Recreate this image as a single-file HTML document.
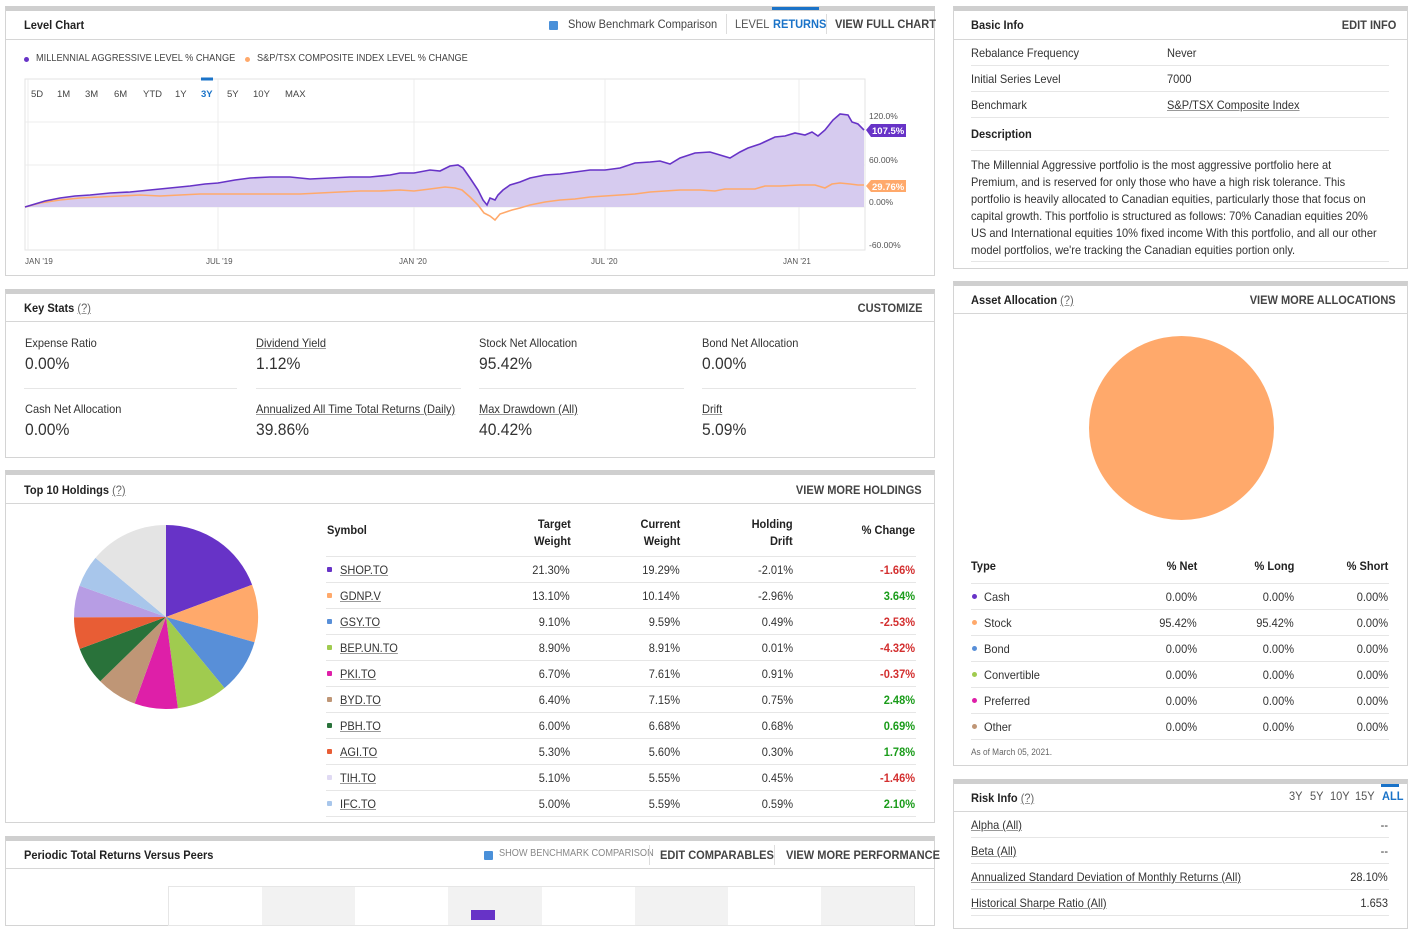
<!DOCTYPE html>
<html><head><meta charset="utf-8">
<style>
*{margin:0;padding:0;box-sizing:border-box}
body{width:1416px;height:917px;overflow:hidden;background:#fff;position:relative;font-family:"Liberation Sans Narrow","Liberation Sans",sans-serif;color:#333;font-size:12px}
.p{position:absolute;border:1px solid #d4d4d4;border-top:5px solid #cfcfcf;background:#fff}
.hl{position:absolute;height:1px;background:#d6d6d6}
.sl{position:absolute;height:1px;background:#e6e6e6}
.t{position:absolute;white-space:nowrap;line-height:1;transform:scaleX(.92);transform-origin:left center}
.r{text-align:right;transform-origin:right center}
.h{font-weight:bold;color:#222;font-size:12px}
.lk{font-weight:bold;color:#444;font-size:12px}
u{text-decoration:underline;text-decoration-color:#999}
.d{position:absolute;width:5px;height:5px;border-radius:1px}
.v{font-size:17px;color:#333}
.g{color:#1a9c1a;font-weight:bold}
.rd{color:#d32f2f;font-weight:bold}
.desc{position:absolute;left:971px;top:157px;width:460px;line-height:17px;font-size:12px;color:#333;transform:scaleX(.92);transform-origin:left top}
svg text{font-family:"Liberation Sans Narrow","Liberation Sans",sans-serif}
</style></head><body>

<!-- Level chart panel -->
<div class="p" style="left:5px;top:6px;width:930px;height:270px"></div>
<div class="hl" style="left:6px;top:39px;width:928px"></div>
<div class="t h" style="left:24px;top:19px">Level Chart</div>
<div style="position:absolute;left:549px;top:21px;width:9px;height:9px;background:#4a90d9;border-radius:1px"></div>
<div class="t" style="left:568px;top:18px;color:#444">Show Benchmark Comparison</div>
<div style="position:absolute;left:726px;top:14px;width:1px;height:20px;background:#ddd"></div>
<div class="t" style="left:735px;top:18px;color:#555">LEVEL</div>
<div style="position:absolute;left:772px;top:7px;width:47px;height:3px;background:#1a73c8"></div>
<div class="t" style="left:773px;top:18px;color:#1a73c8;font-weight:bold">RETURNS</div>
<div style="position:absolute;left:826px;top:14px;width:1px;height:20px;background:#ddd"></div>
<div class="t lk" style="left:835px;top:18px">VIEW FULL CHART</div>

<div class="d" style="left:24px;top:57px;background:#6733c7;border-radius:50%"></div>
<div class="t" style="left:36px;top:54px;font-size:10px;color:#444">MILLENNIAL AGGRESSIVE LEVEL % CHANGE</div>
<div class="d" style="left:245px;top:57px;background:#ffa96b;border-radius:50%"></div>
<div class="t" style="left:257px;top:54px;font-size:10px;color:#444">S&amp;P/TSX COMPOSITE INDEX LEVEL % CHANGE</div>

<svg style="position:absolute;left:0;top:0" width="935" height="275">
<rect x="25" y="79" width="840" height="171" fill="none" stroke="#e3e3e3"/>
<g stroke="#ececec" stroke-width="1">
<line x1="218" y1="79" x2="218" y2="250"/><line x1="414" y1="79" x2="414" y2="250"/>
<line x1="605" y1="79" x2="605" y2="250"/><line x1="799" y1="79" x2="799" y2="250"/>
<line x1="28" y1="79" x2="28" y2="250"/>
<line x1="25" y1="122" x2="865" y2="122"/><line x1="25" y1="165" x2="865" y2="165"/>
<line x1="25" y1="207" x2="865" y2="207"/>
</g>
<path fill="#d6cbef" d="M25,207 L35,204 45,201 60,198 75,196 90,195 110,193 130,192 150,190 170,188 190,186 205,184 218,183 235,180 250,178 270,177 290,177 310,179 330,178 350,177 370,177 390,175 400,173 414,173 430,170 440,171 450,166 458,165 463,168 470,178 478,190 483,200 487,205 490,198 495,200 498,195 503,190 510,185 520,182 530,178 545,175 560,174 575,172 590,170 605,170 620,168 635,163 650,162 660,161 670,164 680,158 695,153 710,152 720,155 730,158 740,152 748,148 760,144 775,137 785,136 795,133 805,135 812,132 818,136 825,130 833,120 840,114 848,115 852,122 858,124 864,130 864,207 Z"/>
<polyline fill="none" stroke="#ffa96b" stroke-width="1.6" points="25,207 40,203 60,200 80,198 100,197 120,196 140,195 160,196 180,195 200,194 218,194 250,194 280,194 300,194 320,193 340,192 360,191 380,191 400,190 414,191 430,189 445,187 455,188 462,190 470,197 478,205 484,213 490,216 495,220 500,214 506,212 512,210 520,208 530,205 545,202 560,200 575,199 590,197 605,196 620,195 635,194 650,192 665,191 680,190 700,190 715,191 725,189 740,189 755,189 765,186 780,186 800,185 815,185 825,188 832,184 840,183 850,184 858,185 864,185"/>
<polyline fill="none" stroke="#6733c7" stroke-width="1.6" points="25,207 35,204 45,201 60,198 75,196 90,195 110,193 130,192 150,190 170,188 190,186 205,184 218,183 235,180 250,178 270,177 290,177 310,179 330,178 350,177 370,177 390,175 400,173 414,173 430,170 440,171 450,166 458,165 463,168 470,178 478,190 483,200 487,205 490,198 495,200 498,195 503,190 510,185 520,182 530,178 545,175 560,174 575,172 590,170 605,170 620,168 635,163 650,162 660,161 670,164 680,158 695,153 710,152 720,155 730,158 740,152 748,148 760,144 775,137 785,136 795,133 805,135 812,132 818,136 825,130 833,120 840,114 848,115 852,122 858,124 864,130"/>
<polygon points="866,130 871,124 906,124 906,137 871,137" fill="#6733c7"/>
<polygon points="866,186 871,180 906,180 906,192 871,192" fill="#ffa96b"/>
<line x1="201" y1="79" x2="213" y2="79" stroke="#1a73c8" stroke-width="3"/>
<g font-size="8.5" fill="#555">
<text x="869" y="119">120.0%</text><text x="869" y="163">60.00%</text><text x="869" y="205">0.00%</text><text x="869" y="248">-60.00%</text>
<text x="25" y="264" font-size="8">JAN '19</text><text x="206" y="264" font-size="8">JUL '19</text><text x="399" y="264" font-size="8">JAN '20</text><text x="591" y="264" font-size="8">JUL '20</text><text x="783" y="264" font-size="8">JAN '21</text>
</g>
<text x="872" y="134" font-size="9.5" font-weight="bold" fill="#fff">107.5%</text>
<text x="872" y="190" font-size="9.5" font-weight="bold" fill="#fff">29.76%</text>
<g font-size="9.5" fill="#444">
<text x="31" y="97">5D</text><text x="57" y="97">1M</text><text x="85" y="97">3M</text><text x="114" y="97">6M</text><text x="143" y="97">YTD</text><text x="175" y="97">1Y</text><text x="201" y="97" fill="#1a73c8" font-weight="bold">3Y</text><text x="227" y="97">5Y</text><text x="253" y="97">10Y</text><text x="285" y="97">MAX</text>
</g>
</svg>

<!-- Key stats -->
<div class="p" style="left:5px;top:289px;width:930px;height:169px"></div>
<div class="hl" style="left:6px;top:321px;width:928px"></div>
<div class="t h" style="left:24px;top:302px">Key Stats <u style="font-weight:normal;color:#666">(?)</u></div>
<div class="t lk r" style="right:494px;top:302px">CUSTOMIZE</div>
<div class="t" style="left:25px;top:337px">Expense Ratio</div><div class="t v" style="left:25px;top:355px">0.00%</div>
<div class="t" style="left:256px;top:337px"><u>Dividend Yield</u></div><div class="t v" style="left:256px;top:355px">1.12%</div>
<div class="t" style="left:479px;top:337px">Stock Net Allocation</div><div class="t v" style="left:479px;top:355px">95.42%</div>
<div class="t" style="left:702px;top:337px">Bond Net Allocation</div><div class="t v" style="left:702px;top:355px">0.00%</div>
<div class="sl" style="left:24px;top:388px;width:213px"></div><div class="sl" style="left:256px;top:388px;width:205px"></div><div class="sl" style="left:479px;top:388px;width:205px"></div><div class="sl" style="left:702px;top:388px;width:214px"></div>
<div class="t" style="left:25px;top:403px">Cash Net Allocation</div><div class="t v" style="left:25px;top:421px">0.00%</div>
<div class="t" style="left:256px;top:403px"><u>Annualized All Time Total Returns (Daily)</u></div><div class="t v" style="left:256px;top:421px">39.86%</div>
<div class="t" style="left:479px;top:403px"><u>Max Drawdown (All)</u></div><div class="t v" style="left:479px;top:421px">40.42%</div>
<div class="t" style="left:702px;top:403px"><u>Drift</u></div><div class="t v" style="left:702px;top:421px">5.09%</div>

<!-- Top holdings -->
<div class="p" style="left:5px;top:470px;width:930px;height:353px"></div>
<div class="hl" style="left:6px;top:503px;width:928px"></div>
<div class="t h" style="left:24px;top:484px">Top 10 Holdings <u style="font-weight:normal;color:#666">(?)</u></div>
<div class="t lk r" style="right:494px;top:484px">VIEW MORE HOLDINGS</div>
<svg style="position:absolute;left:0;top:0" width="300" height="760">
<path d="M166,617 L166,525 A92,92 0 0 1 252.1,584.7Z" fill="#6733c7"/>
<path d="M166,617 L252.1,584.7 A92,92 0 0 1 254.5,642.3Z" fill="#ffa96b"/>
<path d="M166,617 L254.5,642.3 A92,92 0 0 1 224.5,688Z" fill="#588fd8"/>
<path d="M166,617 L224.5,688 A92,92 0 0 1 177.9,708.2Z" fill="#a0cb4f"/>
<path d="M166,617 L177.9,708.2 A92,92 0 0 1 134.6,703.5Z" fill="#de1fa8"/>
<path d="M166,617 L134.6,703.5 A92,92 0 0 1 100.2,681.3Z" fill="#bf9676"/>
<path d="M166,617 L100.2,681.3 A92,92 0 0 1 79.7,648.9Z" fill="#29723a"/>
<path d="M166,617 L79.7,648.9 A92,92 0 0 1 74,617.2Z" fill="#e85d35"/>
<path d="M166,617 L74,617.2 A92,92 0 0 1 79.5,585.7Z" fill="#b79de4"/>
<path d="M166,617 L79.5,585.7 A92,92 0 0 1 95.5,557.9Z" fill="#a8c6eb"/>
<path d="M166,617 L95.5,557.9 A92,92 0 0 1 166,525Z" fill="#e4e4e4"/>
</svg>
<div class="t h" style="left:327px;top:524px">Symbol</div>
<div class="t h r" style="right:845px;top:516px;line-height:17px">Target<br>Weight</div>
<div class="t h r" style="right:736px;top:516px;line-height:17px">Current<br>Weight</div>
<div class="t h r" style="right:623px;top:516px;line-height:17px">Holding<br>Drift</div>
<div class="t h r" style="right:501px;top:524px">% Change</div>
<div class="sl" style="left:326px;top:556px;width:590px"></div>

<!-- Periodic -->
<div class="p" style="left:5px;top:836px;width:930px;height:90px"></div>
<div class="hl" style="left:6px;top:868px;width:928px"></div>
<div class="t h" style="left:24px;top:849px">Periodic Total Returns Versus Peers</div>
<div style="position:absolute;left:484px;top:851px;width:9px;height:9px;background:#4a90d9;border-radius:1px"></div>
<div class="t" style="left:499px;top:849px;font-size:10px;color:#888">SHOW BENCHMARK COMPARISON</div>
<div style="position:absolute;left:649px;top:845px;width:1px;height:20px;background:#ddd"></div>
<div class="t lk" style="left:660px;top:849px">EDIT COMPARABLES</div>
<div style="position:absolute;left:774px;top:845px;width:1px;height:20px;background:#ddd"></div>
<div class="t lk" style="left:786px;top:849px">VIEW MORE PERFORMANCE</div>
<div style="position:absolute;left:168px;top:886px;width:747px;height:40px;border:1px solid #e6e6e6;background:linear-gradient(90deg,#fff 0 93px,#f2f2f2 93px 186px,#fff 186px 279px,#f2f2f2 279px 373px,#fff 373px 466px,#f2f2f2 466px 559px,#fff 559px 652px,#f2f2f2 652px)"></div>
<div style="position:absolute;left:471px;top:910px;width:24px;height:10px;background:#6733c7"></div>

<!-- Basic info -->
<div class="p" style="left:953px;top:6px;width:455px;height:263px"></div>
<div class="hl" style="left:954px;top:39px;width:453px"></div>
<div class="t h" style="left:971px;top:19px">Basic Info</div>
<div class="t lk r" style="right:20px;top:19px">EDIT INFO</div>
<div class="t" style="left:971px;top:47px">Rebalance Frequency</div><div class="t" style="left:1167px;top:47px">Never</div>
<div class="sl" style="left:971px;top:65px;width:418px"></div>
<div class="t" style="left:971px;top:73px">Initial Series Level</div><div class="t" style="left:1167px;top:73px">7000</div>
<div class="sl" style="left:971px;top:91px;width:418px"></div>
<div class="t" style="left:971px;top:99px">Benchmark</div><div class="t" style="left:1167px;top:99px"><u>S&amp;P/TSX Composite Index</u></div>
<div class="sl" style="left:971px;top:117px;width:418px"></div>
<div class="t h" style="left:971px;top:128px">Description</div>
<div class="sl" style="left:971px;top:150px;width:418px"></div>
<div class="desc">The Millennial Aggressive portfolio is the most aggressive portfolio here at<br>Premium, and is reserved for only those who have a high risk tolerance. This<br>portfolio is heavily allocated to Canadian equities, particularly those that focus on<br>capital growth. This portfolio is structured as follows: 70% Canadian equities 20%<br>US and International equities 10% fixed income With this portfolio, and all our other<br>model portfolios, we're tracking the Canadian equities portion only.</div>
<div class="sl" style="left:971px;top:261px;width:418px"></div>

<!-- Asset allocation -->
<div class="p" style="left:953px;top:281px;width:455px;height:485px"></div>
<div class="hl" style="left:954px;top:313px;width:453px"></div>
<div class="t h" style="left:971px;top:294px">Asset Allocation <u style="font-weight:normal;color:#666">(?)</u></div>
<div class="t lk r" style="right:20px;top:294px">VIEW MORE ALLOCATIONS</div>
<div style="position:absolute;left:1089px;top:336px;width:185px;height:184px;border-radius:50%;background:#ffa96b"></div>
<div class="t h" style="left:971px;top:560px">Type</div>
<div class="t h r" style="right:219px;top:560px">% Net</div>
<div class="t h r" style="right:122px;top:560px">% Long</div>
<div class="t h r" style="right:28px;top:560px">% Short</div>
<div class="sl" style="left:971px;top:583px;width:418px"></div>
<div class="t" style="left:971px;top:748px;font-size:9px;color:#666">As of March 05, 2021.</div>

<!-- Risk info -->
<div class="p" style="left:953px;top:779px;width:455px;height:150px"></div>
<div class="hl" style="left:954px;top:811px;width:453px"></div>
<div class="t h" style="left:971px;top:792px">Risk Info <u style="font-weight:normal;color:#666">(?)</u></div>
<div class="t" style="left:1289px;top:790px;color:#555">3Y</div>
<div class="t" style="left:1310px;top:790px;color:#555">5Y</div>
<div class="t" style="left:1330px;top:790px;color:#555">10Y</div>
<div class="t" style="left:1355px;top:790px;color:#555">15Y</div>
<div style="position:absolute;left:1381px;top:784px;width:18px;height:3px;background:#1a73c8"></div>
<div class="t" style="left:1382px;top:790px;color:#1a73c8;font-weight:bold">ALL</div>
<div class="t" style="left:971px;top:819px"><u>Alpha (All)</u></div><div class="t r" style="right:28px;top:819px">--</div>
<div class="sl" style="left:971px;top:837px;width:418px"></div>
<div class="t" style="left:971px;top:845px"><u>Beta (All)</u></div><div class="t r" style="right:28px;top:845px">--</div>
<div class="sl" style="left:971px;top:863px;width:418px"></div>
<div class="t" style="left:971px;top:871px"><u>Annualized Standard Deviation of Monthly Returns (All)</u></div><div class="t r" style="right:28px;top:871px">28.10%</div>
<div class="sl" style="left:971px;top:889px;width:418px"></div>
<div class="t" style="left:971px;top:897px"><u>Historical Sharpe Ratio (All)</u></div><div class="t r" style="right:28px;top:897px">1.653</div>
<div class="sl" style="left:971px;top:915px;width:418px"></div>

<!-- holdings rows -->
<div class="d" style="left:327px;top:567px;background:#6733c7"></div><div class="t" style="left:340px;top:564px"><u>SHOP.TO</u></div><div class="t r" style="right:846px;top:564px">21.30%</div><div class="t r" style="right:736px;top:564px">19.29%</div><div class="t r" style="right:623px;top:564px">-2.01%</div><div class="t r rd" style="right:501px;top:564px">-1.66%</div><div class="sl" style="left:326px;top:582px;width:590px"></div>
<div class="d" style="left:327px;top:593px;background:#ffa96b"></div><div class="t" style="left:340px;top:590px"><u>GDNP.V</u></div><div class="t r" style="right:846px;top:590px">13.10%</div><div class="t r" style="right:736px;top:590px">10.14%</div><div class="t r" style="right:623px;top:590px">-2.96%</div><div class="t r g" style="right:501px;top:590px">3.64%</div><div class="sl" style="left:326px;top:608px;width:590px"></div>
<div class="d" style="left:327px;top:619px;background:#588fd8"></div><div class="t" style="left:340px;top:616px"><u>GSY.TO</u></div><div class="t r" style="right:846px;top:616px">9.10%</div><div class="t r" style="right:736px;top:616px">9.59%</div><div class="t r" style="right:623px;top:616px">0.49%</div><div class="t r rd" style="right:501px;top:616px">-2.53%</div><div class="sl" style="left:326px;top:634px;width:590px"></div>
<div class="d" style="left:327px;top:645px;background:#a0cb4f"></div><div class="t" style="left:340px;top:642px"><u>BEP.UN.TO</u></div><div class="t r" style="right:846px;top:642px">8.90%</div><div class="t r" style="right:736px;top:642px">8.91%</div><div class="t r" style="right:623px;top:642px">0.01%</div><div class="t r rd" style="right:501px;top:642px">-4.32%</div><div class="sl" style="left:326px;top:660px;width:590px"></div>
<div class="d" style="left:327px;top:671px;background:#de1fa8"></div><div class="t" style="left:340px;top:668px"><u>PKI.TO</u></div><div class="t r" style="right:846px;top:668px">6.70%</div><div class="t r" style="right:736px;top:668px">7.61%</div><div class="t r" style="right:623px;top:668px">0.91%</div><div class="t r rd" style="right:501px;top:668px">-0.37%</div><div class="sl" style="left:326px;top:686px;width:590px"></div>
<div class="d" style="left:327px;top:697px;background:#bf9676"></div><div class="t" style="left:340px;top:694px"><u>BYD.TO</u></div><div class="t r" style="right:846px;top:694px">6.40%</div><div class="t r" style="right:736px;top:694px">7.15%</div><div class="t r" style="right:623px;top:694px">0.75%</div><div class="t r g" style="right:501px;top:694px">2.48%</div><div class="sl" style="left:326px;top:712px;width:590px"></div>
<div class="d" style="left:327px;top:723px;background:#29723a"></div><div class="t" style="left:340px;top:720px"><u>PBH.TO</u></div><div class="t r" style="right:846px;top:720px">6.00%</div><div class="t r" style="right:736px;top:720px">6.68%</div><div class="t r" style="right:623px;top:720px">0.68%</div><div class="t r g" style="right:501px;top:720px">0.69%</div><div class="sl" style="left:326px;top:738px;width:590px"></div>
<div class="d" style="left:327px;top:749px;background:#e85d35"></div><div class="t" style="left:340px;top:746px"><u>AGI.TO</u></div><div class="t r" style="right:846px;top:746px">5.30%</div><div class="t r" style="right:736px;top:746px">5.60%</div><div class="t r" style="right:623px;top:746px">0.30%</div><div class="t r g" style="right:501px;top:746px">1.78%</div><div class="sl" style="left:326px;top:764px;width:590px"></div>
<div class="d" style="left:327px;top:775px;background:#e0daf3"></div><div class="t" style="left:340px;top:772px"><u>TIH.TO</u></div><div class="t r" style="right:846px;top:772px">5.10%</div><div class="t r" style="right:736px;top:772px">5.55%</div><div class="t r" style="right:623px;top:772px">0.45%</div><div class="t r rd" style="right:501px;top:772px">-1.46%</div><div class="sl" style="left:326px;top:790px;width:590px"></div>
<div class="d" style="left:327px;top:801px;background:#a8c6eb"></div><div class="t" style="left:340px;top:798px"><u>IFC.TO</u></div><div class="t r" style="right:846px;top:798px">5.00%</div><div class="t r" style="right:736px;top:798px">5.59%</div><div class="t r" style="right:623px;top:798px">0.59%</div><div class="t r g" style="right:501px;top:798px">2.10%</div><div class="sl" style="left:326px;top:816px;width:590px"></div>

<!-- allocation rows -->
<div class="d" style="left:972px;top:594px;background:#6733c7;border-radius:50%"></div><div class="t" style="left:984px;top:591px">Cash</div><div class="t r" style="right:219px;top:591px">0.00%</div><div class="t r" style="right:122px;top:591px">0.00%</div><div class="t r" style="right:28px;top:591px">0.00%</div><div class="sl" style="left:971px;top:609px;width:418px"></div>
<div class="d" style="left:972px;top:620px;background:#ffa96b;border-radius:50%"></div><div class="t" style="left:984px;top:617px">Stock</div><div class="t r" style="right:219px;top:617px">95.42%</div><div class="t r" style="right:122px;top:617px">95.42%</div><div class="t r" style="right:28px;top:617px">0.00%</div><div class="sl" style="left:971px;top:635px;width:418px"></div>
<div class="d" style="left:972px;top:646px;background:#588fd8;border-radius:50%"></div><div class="t" style="left:984px;top:643px">Bond</div><div class="t r" style="right:219px;top:643px">0.00%</div><div class="t r" style="right:122px;top:643px">0.00%</div><div class="t r" style="right:28px;top:643px">0.00%</div><div class="sl" style="left:971px;top:661px;width:418px"></div>
<div class="d" style="left:972px;top:672px;background:#a0cb4f;border-radius:50%"></div><div class="t" style="left:984px;top:669px">Convertible</div><div class="t r" style="right:219px;top:669px">0.00%</div><div class="t r" style="right:122px;top:669px">0.00%</div><div class="t r" style="right:28px;top:669px">0.00%</div><div class="sl" style="left:971px;top:687px;width:418px"></div>
<div class="d" style="left:972px;top:698px;background:#de1fa8;border-radius:50%"></div><div class="t" style="left:984px;top:695px">Preferred</div><div class="t r" style="right:219px;top:695px">0.00%</div><div class="t r" style="right:122px;top:695px">0.00%</div><div class="t r" style="right:28px;top:695px">0.00%</div><div class="sl" style="left:971px;top:713px;width:418px"></div>
<div class="d" style="left:972px;top:724px;background:#bf9676;border-radius:50%"></div><div class="t" style="left:984px;top:721px">Other</div><div class="t r" style="right:219px;top:721px">0.00%</div><div class="t r" style="right:122px;top:721px">0.00%</div><div class="t r" style="right:28px;top:721px">0.00%</div><div class="sl" style="left:971px;top:739px;width:418px"></div>
</body></html>
